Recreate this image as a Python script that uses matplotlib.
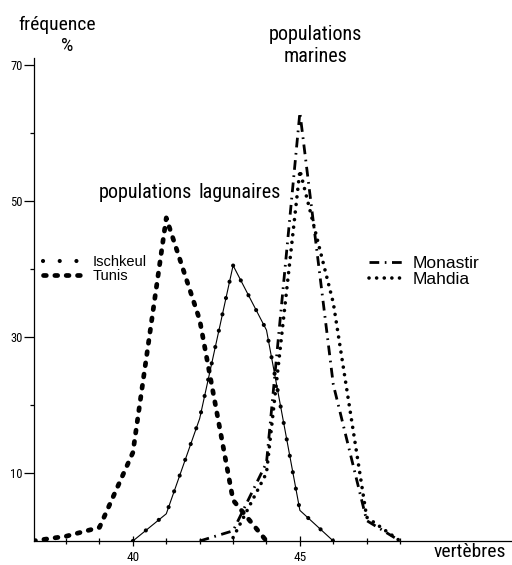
import matplotlib
matplotlib.use('Agg')
import matplotlib.pyplot as plt
from matplotlib import font_manager
from matplotlib.font_manager import FontProperties
from matplotlib.ticker import FixedLocator, NullFormatter

# ---------------- data ----------------
vert_ischkeul = [40, 41, 42, 43, 44, 45, 46]
freq_ischkeul = [0, 4, 18, 40.5, 31, 4.5, 0]

vert_tunis = [37, 38, 39, 40, 41, 42, 43, 44]
freq_tunis = [0, 0.7, 2, 13, 47.5, 32.5, 6, 0]

vert_monastir = [42, 43, 44, 45, 46, 47, 48]
freq_monastir = [0, 1.5, 11.5, 63, 23, 3, 0]

vert_mahdia = [43, 44, 45, 46, 47, 48]
freq_mahdia = [0.5, 10, 54.5, 35, 3.5, 0]

y_major = [10, 30, 50, 70]
y_minor = [20, 40, 60]
x_major = [40, 45]
x_minor = [38, 39, 41, 42, 43, 44, 46, 47, 48]

# ---------------- fonts ----------------
def _w(f):
    w = f.weight
    if isinstance(w, str):
        return {'normal': 400, 'regular': 400, 'book': 400, 'medium': 500}.get(w, 700)
    return w

pref = ['Roboto Condensed', 'Liberation Sans Narrow', 'Open Sans Condensed',
        'Noto Sans Condensed', 'DejaVu Sans Condensed', 'Noto Sans', 'Open Sans', 'Roboto']
cands = []
for f in font_manager.fontManager.ttflist:
    if f.style != 'normal':
        continue
    narrowish = ('Narrow' in f.name or 'Condensed' in f.name or
                 str(f.stretch) in ('condensed', 'semi-condensed', 'extra-condensed'))
    if not narrowish or _w(f) not in (400, 500):
        continue
    rank = len(pref)
    for i, p in enumerate(pref):
        if f.name.startswith(p):
            rank = i
            break
    cands.append((rank, _w(f) != 400, f.name, f.fname))
cands.sort()
if cands:
    COND = FontProperties(fname=cands[0][3])
else:
    COND = FontProperties(family='DejaVu Sans', stretch='condensed')

names = {f.name for f in font_manager.fontManager.ttflist}
SANS = 'Liberation Sans' if 'Liberation Sans' in names else 'DejaVu Sans'

W, H = 512, 565
fig = plt.figure(figsize=(W / 100, H / 100), dpi=100)

def fx(px):
    return px / W

def fy(py):
    return 1 - py / H

def cprop(size):
    p = COND.copy()
    p.set_size(size)
    return p

ax = fig.add_axes([fx(34), fy(541), fx(511) - fx(34), fy(58) - fy(541)])
ax.set_xlim(37.04, 51.32)
ax.set_ylim(0, 71.0)

for s in ['top', 'right']:
    ax.spines[s].set_visible(False)
for s in ['left', 'bottom']:
    ax.spines[s].set_linewidth(0.9)

# ---------------- curves ----------------
l_isch, = ax.plot(vert_ischkeul, freq_ischkeul, color='black', lw=0.8)
d_isch, = ax.plot(vert_ischkeul, freq_ischkeul, color='black', lw=3.0,
                  linestyle=(0, (0.01, 4.0)), dash_capstyle='round')
l_tun, = ax.plot(vert_tunis, freq_tunis, color='black', lw=3.4,
                 linestyle=(0, (0.6, 1.8)), dash_capstyle='round')
l_mon, = ax.plot(vert_monastir, freq_monastir, color='black', lw=2.0,
                 linestyle=(0, (3.5, 2.0, 0.6, 2.0)), dash_capstyle='butt')
l_mah, = ax.plot(vert_mahdia, freq_mahdia, color='black', lw=2.6,
                 linestyle=(0, (0.01, 2.1)), dash_capstyle='round')

# ---------------- ticks ----------------
ax.yaxis.set_major_locator(FixedLocator(y_major))
ax.yaxis.set_minor_locator(FixedLocator(y_minor))
ax.yaxis.set_minor_formatter(NullFormatter())
ax.xaxis.set_major_locator(FixedLocator(x_major))
ax.xaxis.set_minor_locator(FixedLocator(x_minor))
ax.xaxis.set_minor_formatter(NullFormatter())

ax.tick_params(axis='y', which='major', direction='out', length=7, width=0.9, pad=1)
ax.tick_params(axis='y', which='minor', direction='out', length=3, width=0.9)
ax.tick_params(axis='x', which='major', direction='inout', length=7, width=0.9, pad=4)
ax.tick_params(axis='x', which='minor', direction='inout', length=4, width=0.9)
for lab in ax.get_yticklabels():
    lab.set_fontproperties(cprop(9))
for lab in ax.get_xticklabels():
    lab.set_fontproperties(cprop(9.5))

# ---------------- texts ----------------
fig.text(fx(57), fy(25), 'fréquence', ha='center', va='center', fontproperties=cprop(14))
fig.text(fx(67), fy(46), '%', ha='center', va='center', fontproperties=cprop(14))
fig.text(fx(470), fy(552), 'vertèbres', ha='center', va='center', fontproperties=cprop(14))

fig.text(fx(145), fy(193), 'populations', ha='center', va='center', fontproperties=cprop(14.5))
fig.text(fx(240), fy(193), 'lagunaires', ha='center', va='center', fontproperties=cprop(14.5))
fig.text(fx(315), fy(35), 'populations', ha='center', va='center', fontproperties=cprop(14.5))
fig.text(fx(316), fy(57), 'marines', ha='center', va='center', fontproperties=cprop(14.5))

# ---------------- legends ----------------
leg1 = ax.legend([d_isch, l_tun], ['Ischkeul', 'Tunis'],
                 loc='upper left', bbox_to_anchor=(fx(43), fy(255)),
                 bbox_transform=fig.transFigure, frameon=False,
                 handlelength=3.0, handletextpad=0.4,
                 labelspacing=0.0, borderpad=0, borderaxespad=0,
                 prop={'family': [SANS, 'DejaVu Sans'], 'size': 10.5})
ax.add_artist(leg1)
leg2 = ax.legend([l_mon, l_mah], ['Monastir', 'Mahdia'],
                 loc='upper left', bbox_to_anchor=(fx(369), fy(256)),
                 bbox_transform=fig.transFigure, frameon=False,
                 handlelength=2.0, handletextpad=0.5,
                 labelspacing=0.05, borderpad=0, borderaxespad=0,
                 prop={'family': [SANS, 'DejaVu Sans'], 'size': 12.5})

fig.savefig('out.png', dpi=100)
